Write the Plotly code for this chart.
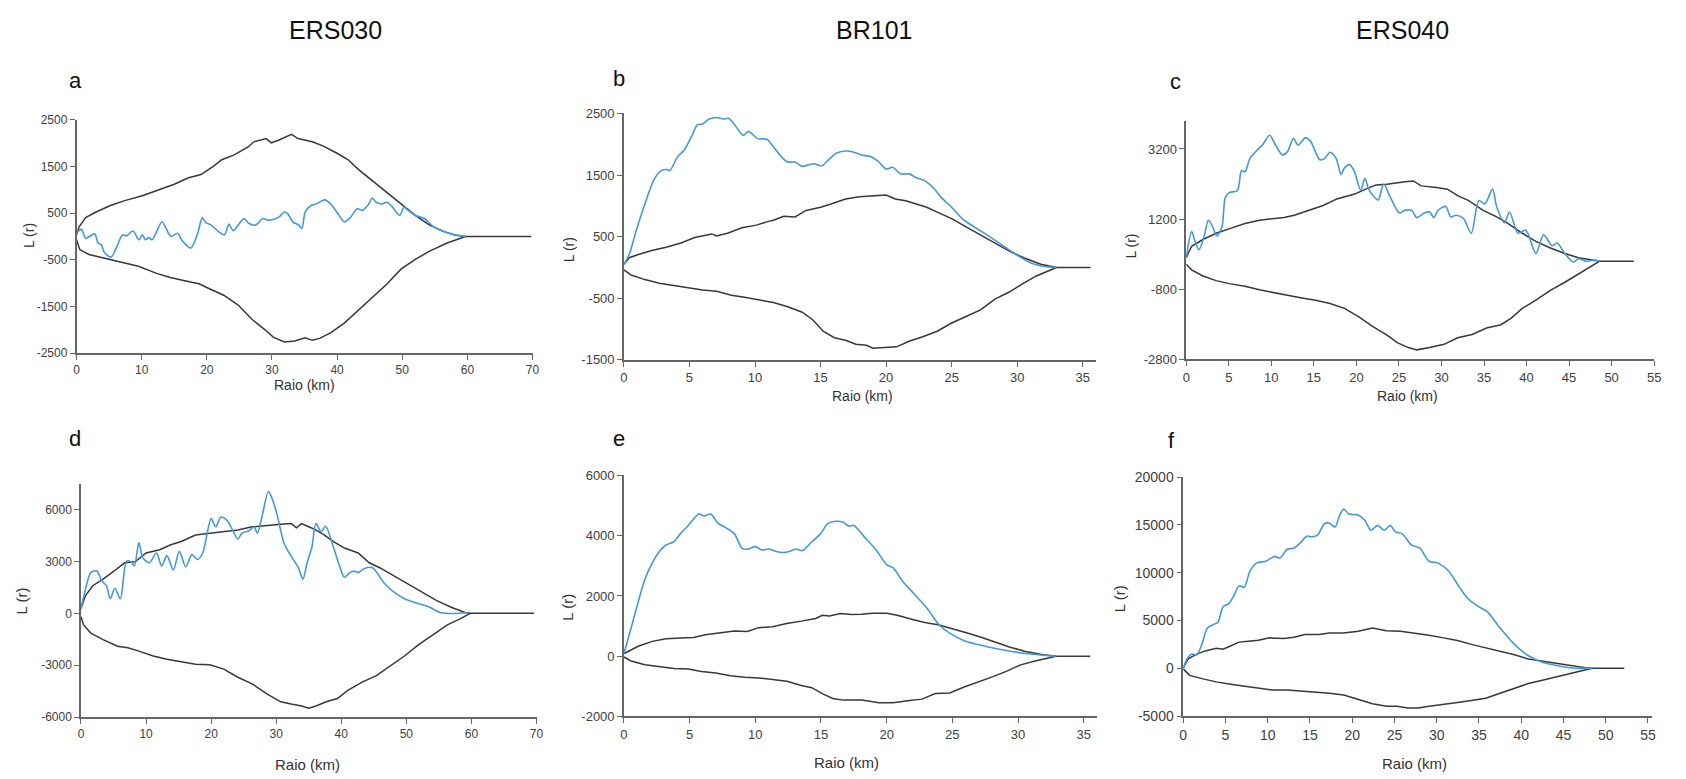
import plotly.graph_objects as go

W, H = 1686, 779

# ---------------- Panel a (ERS030) ----------------
a_obs_x = [0, 0.78, 1.4, 2.8, 3.3, 3.8, 4.3, 5.3, 6.1, 7.05, 7.65, 8.67, 9.58, 10.1, 10.6, 11.1, 11.6, 13.1, 13.5, 14.5, 15.5, 16.3, 17.55, 18.6, 19.3, 19.9, 20.7, 21.8, 22.7, 23.4, 24.05, 25.7, 26.5, 27.5, 28.6, 29.4, 30.2, 31.1, 31.9, 32.4, 33.2, 34.1, 34.6, 35.1, 36.0, 36.8, 38.1, 39.0, 40.3, 41.1, 41.9, 43.1, 43.9, 44.7, 45.4, 46.0, 46.9, 47.7, 48.5, 49.6, 50.3, 50.9, 52.0, 53.4, 54.8, 56.4, 58.0, 59.7]
a_obs_y = [84, 153, -36, 55, -140, -176, -350, -441, -246, 34, 13, 118, -71, 34, -71, -21, -71, 315, 244, 0, 69, -105, -246, 69, 399, 294, 244, 105, 34, 265, 126, 384, 279, 244, 385, 350, 364, 420, 525, 490, 315, 245, 175, 525, 665, 700, 785, 700, 455, 315, 385, 595, 560, 665, 820, 735, 700, 735, 630, 455, 630, 560, 455, 385, 210, 105, 35, 0]
a_up_x = [0, 0.4, 1.4, 3.0, 5.2, 7.4, 10.1, 12.8, 15.0, 17.2, 19.1, 21.0, 22.3, 24.2, 26.4, 27.2, 29.1, 29.9, 31.0, 33.0, 34.0, 36.2, 37.9, 40.0, 41.7, 43.3, 45.5, 47.7, 49.8, 52.0, 54.2, 56.4, 58.0, 59.7, 69.8]
a_up_y = [35, 210, 406, 525, 665, 770, 875, 1015, 1120, 1260, 1330, 1506, 1646, 1751, 1926, 2031, 2101, 2010, 2066, 2192, 2101, 2031, 1940, 1786, 1646, 1436, 1190, 945, 700, 455, 245, 105, 35, 0, 0]
a_lo_x = [0, 0.5, 1.9, 4.6, 6.8, 9.5, 12.3, 14.4, 16.6, 18.8, 20.4, 22.6, 24.8, 27.0, 28.9, 30.2, 31.9, 33.5, 35.1, 36.2, 37.3, 39.0, 41.1, 43.3, 45.5, 47.7, 49.8, 52.0, 54.2, 56.9, 59.7]
a_lo_y = [-70, -280, -385, -470, -540, -640, -790, -880, -950, -1015, -1120, -1260, -1471, -1786, -1996, -2157, -2262, -2241, -2171, -2227, -2185, -2066, -1856, -1576, -1296, -1015, -700, -490, -315, -140, 0]

# ---------------- Panel b (BR101) ----------------
b_obs_x = [0, 0.4, 0.95, 1.6, 2.3, 2.85, 3.26, 3.5, 4.1, 4.6, 5.2, 5.6, 6.0, 6.5, 7.07, 7.6, 8.0, 8.4, 9.1, 9.5, 10.2, 10.9, 11.4, 12.0, 12.5, 13.05, 13.6, 14.1, 14.5, 15.1, 15.6, 16.2, 16.9, 17.4, 18.1, 18.8, 19.4, 20.0, 20.5, 21.1, 21.8, 22.3, 23.0, 23.7, 24.2, 25.0, 25.8, 26.7, 27.7, 28.8, 29.9, 31.0, 32.1, 33.0]
b_obs_y = [52, 211, 609, 1032, 1430, 1573, 1589, 1573, 1800, 1907, 2145, 2315, 2330, 2410, 2436, 2410, 2420, 2330, 2145, 2209, 2092, 2081, 1960, 1800, 1711, 1711, 1642, 1668, 1684, 1652, 1748, 1854, 1891, 1880, 1827, 1800, 1721, 1599, 1626, 1520, 1520, 1456, 1403, 1271, 1138, 979, 794, 661, 530, 371, 212, 79, 16, 0]
b_up_x = [0, 0.4, 1.1, 2.2, 3.3, 4.35, 5.4, 6.25, 6.7, 7.07, 7.9, 9.0, 10.1, 10.9, 11.4, 12.2, 13.05, 13.9, 15.0, 15.8, 16.9, 17.95, 19.0, 20.0, 20.7, 21.5, 22.3, 23.1, 23.9, 25.0, 26.1, 27.2, 28.3, 29.4, 30.5, 31.8, 33.0, 35.6]
b_up_y = [52, 159, 211, 280, 333, 397, 487, 529, 545, 513, 556, 646, 688, 741, 767, 831, 820, 926, 979, 1032, 1112, 1149, 1165, 1175, 1112, 1085, 1032, 979, 900, 794, 661, 530, 397, 265, 159, 53, 0, 0]
b_lo_x = [0, 0.55, 1.6, 2.7, 3.8, 4.9, 6.0, 7.07, 8.2, 9.2, 10.3, 11.4, 12.5, 13.6, 14.4, 15.2, 16.05, 16.9, 17.7, 18.5, 19.0, 19.85, 20.8, 21.8, 22.8, 23.9, 25.0, 26.1, 27.2, 28.3, 29.4, 30.5, 31.5, 33.0]
b_lo_y = [-37, -122, -196, -255, -292, -334, -366, -387, -451, -483, -525, -567, -636, -726, -848, -1034, -1140, -1182, -1246, -1262, -1309, -1299, -1288, -1193, -1124, -1034, -901, -795, -689, -514, -398, -255, -133, 0]

# ---------------- Panel c (ERS040) ----------------
c_obs_x = [0, 0.63, 1.04, 1.5, 2.1, 2.6, 3.1, 3.6, 4.2, 4.6, 5.1, 6.0, 6.5, 6.9, 7.5, 8.35, 9.0, 9.8, 10.4, 11.3, 11.9, 12.6, 13.15, 14.0, 14.6, 15.7, 16.3, 16.9, 17.6, 18.2, 18.6, 19.2, 19.75, 20.5, 21.0, 21.5, 22.55, 23.2, 24.0, 25.05, 25.7, 26.5, 27.1, 27.97, 28.6, 29.1, 29.6, 30.5, 31.1, 31.7, 32.6, 33.5, 34.4, 35.1, 36.0, 36.5, 37.4, 38.0, 39.0, 39.9, 41.1, 42.0, 43.0, 43.6, 44.5, 45.5, 46.1, 47.0, 47.8, 48.6]
c_obs_y = [100, 843, 563, 330, 703, 1169, 983, 722, 983, 1821, 1961, 2007, 2585, 2548, 2939, 3172, 3330, 3591, 3358, 3032, 3125, 3498, 3312, 3517, 3424, 2893, 2939, 3107, 2939, 2473, 2660, 2753, 2566, 2026, 2361, 2026, 1747, 2194, 1821, 1374, 1448, 1448, 1243, 1374, 1402, 1243, 1448, 1560, 1262, 1309, 1215, 796, 1728, 1635, 2054, 1542, 1094, 1402, 796, 889, 219, 750, 442, 517, 219, -23, 70, -5, 33, 0]
c_up_x = [0, 0.63, 1.9, 3.5, 5.2, 6.9, 8.6, 10.2, 11.5, 12.7, 14.4, 16.1, 17.7, 19.8, 21.1, 22.3, 23.6, 24.8, 25.7, 26.7, 27.6, 29.4, 30.7, 31.9, 33.2, 34.9, 36.5, 37.8, 39.5, 41.1, 42.8, 44.5, 46.1, 48.6, 52.6]
c_up_y = [100, 424, 610, 796, 936, 1076, 1169, 1215, 1243, 1309, 1448, 1588, 1775, 1914, 2054, 2175, 2194, 2240, 2268, 2287, 2147, 2101, 2054, 1868, 1728, 1448, 1262, 1076, 796, 563, 377, 219, 98, 0, 0]
c_lo_x = [0, 0.63, 1.9, 3.5, 5.2, 6.9, 8.6, 10.2, 11.9, 13.6, 15.2, 16.9, 18.6, 20.25, 21.9, 23.6, 24.8, 26.1, 27.1, 28.6, 30.3, 31.9, 33.6, 35.3, 37.0, 38.2, 39.5, 41.1, 42.8, 44.5, 46.1, 47.8, 48.6]
c_lo_y = [-86, -247, -415, -555, -648, -713, -816, -900, -974, -1049, -1114, -1207, -1347, -1580, -1859, -2111, -2325, -2465, -2530, -2465, -2372, -2185, -2092, -1906, -1813, -1626, -1347, -1114, -834, -601, -368, -135, 0]

# ---------------- Panel d (ERS030) ----------------
d_obs_x = [0, 0.7, 1.5, 2.45, 3.2, 3.9, 4.5, 5.2, 6.05, 7.0, 7.7, 8.2, 8.9, 9.5, 10.5, 11.6, 12.4, 13.2, 14.2, 15.1, 16.1, 17.05, 17.9, 18.7, 20.0, 20.7, 21.5, 22.5, 23.3, 24.1, 24.7, 25.8, 26.6, 27.1, 27.8, 28.8, 29.3, 30.1, 31.2, 32.3, 33.4, 34.1, 34.75, 35.5, 36.1, 36.9, 37.6, 38.6, 39.65, 40.5, 41.3, 42.0, 42.6, 43.5, 44.8, 46.5, 48.1, 49.7, 51.9, 53.5, 55.2, 57.4, 59.5]
d_obs_y = [274, 1407, 2352, 2447, 1880, 1596, 840, 1445, 840, 3014, 2976, 2730, 4091, 3203, 2919, 3486, 2730, 3335, 2504, 3581, 2692, 3392, 3108, 3486, 5471, 4998, 5565, 5339, 4809, 4280, 4620, 4771, 4998, 4620, 5565, 7040, 6699, 5754, 4053, 3297, 2636, 1974, 2919, 3864, 5187, 4715, 5036, 4053, 2825, 2069, 2352, 2447, 2352, 2579, 2636, 1785, 1218, 840, 556, 367, 47, -10, 47]
d_up_x = [0, 0.7, 1.8, 3.4, 5.1, 6.7, 8.3, 10.0, 12.1, 13.8, 15.4, 17.6, 19.8, 21.95, 24.1, 26.3, 28.5, 30.7, 32.3, 33.1, 33.9, 35.6, 37.2, 38.8, 40.5, 42.6, 44.3, 45.9, 48.1, 50.3, 52.45, 54.6, 56.8, 59.0, 59.8, 69.6]
d_up_y = [274, 1029, 1596, 1974, 2447, 2919, 2976, 3486, 3675, 3959, 4148, 4526, 4620, 4715, 4809, 4998, 5093, 5149, 5187, 4941, 5187, 4904, 4582, 4148, 3770, 3486, 2919, 2636, 2163, 1691, 1218, 746, 367, 47, 0, 0]
d_lo_x = [0, 0.4, 1.5, 3.4, 5.6, 7.2, 8.9, 11.1, 13.2, 15.4, 17.6, 19.8, 21.95, 24.1, 26.3, 28.5, 30.7, 32.3, 33.9, 35.0, 36.1, 37.7, 39.4, 41.0, 43.2, 45.4, 47.5, 49.7, 51.9, 54.1, 56.3, 58.4, 59.8]
d_lo_y = [-200, -672, -1144, -1522, -1900, -1995, -2184, -2467, -2656, -2807, -2939, -2977, -3223, -3695, -4074, -4641, -5113, -5246, -5359, -5491, -5359, -5113, -4924, -4452, -3979, -3601, -3034, -2467, -1806, -1239, -672, -294, 0]

# ---------------- Panel e (BR101) ----------------
e_obs_x = [0, 0.54, 1.08, 1.6, 2.16, 2.7, 3.2, 3.8, 4.3, 4.9, 5.3, 5.7, 6.1, 6.6, 7.15, 7.8, 8.4, 9.0, 9.4, 10.0, 10.5, 11.06, 11.6, 12.1, 12.7, 13.1, 13.6, 14.3, 14.98, 15.5, 16.2, 16.7, 17.1, 17.5, 18.3, 19.2, 20.0, 20.5, 21.2, 22.1, 23.1, 24.0, 24.8, 25.9, 27.5, 29.1, 30.8, 32.4, 32.9]
e_obs_y = [81, 927, 1794, 2553, 3095, 3474, 3691, 3800, 4070, 4342, 4558, 4721, 4656, 4721, 4417, 4255, 4070, 3583, 3550, 3637, 3528, 3561, 3474, 3442, 3496, 3561, 3507, 3800, 4070, 4396, 4482, 4450, 4320, 4342, 3962, 3528, 3041, 2932, 2499, 2065, 1577, 1035, 764, 515, 331, 190, 81, 16, 0]
e_up_x = [0, 1.08, 2.16, 3.2, 4.3, 5.3, 6.2, 7.3, 8.4, 9.4, 10.25, 11.3, 12.4, 13.5, 14.6, 15.1, 15.65, 16.5, 17.3, 18.1, 18.9, 20.0, 20.8, 21.9, 22.9, 24.0, 25.1, 26.2, 27.25, 28.3, 29.4, 30.5, 31.8, 32.9, 35.5]
e_up_y = [81, 331, 493, 580, 602, 624, 710, 764, 840, 818, 948, 981, 1089, 1165, 1252, 1360, 1339, 1415, 1382, 1393, 1426, 1426, 1360, 1230, 1122, 1035, 905, 764, 624, 472, 298, 168, 60, 0, 0]
e_lo_x = [0, 0.54, 1.6, 2.7, 3.8, 4.9, 5.9, 7.0, 8.1, 9.2, 10.25, 11.3, 12.4, 13.5, 14.3, 15.1, 15.9, 16.7, 18.1, 19.4, 20.5, 21.6, 22.7, 23.7, 24.8, 25.9, 27.0, 28.1, 29.1, 30.2, 31.3, 32.9]
e_lo_y = [-27, -157, -287, -341, -406, -428, -504, -558, -645, -699, -721, -775, -829, -970, -1046, -1241, -1404, -1458, -1458, -1545, -1545, -1480, -1425, -1241, -1219, -1024, -862, -678, -504, -287, -157, 0]

# ---------------- Panel f (ERS040) ----------------
f_obs_x = [0, 0.55, 0.97, 1.6, 2.2, 2.85, 3.5, 4.1, 4.7, 5.4, 6.0, 6.6, 7.2, 7.9, 8.7, 9.8, 10.8, 11.45, 12.3, 13.1, 13.98, 14.6, 15.2, 15.9, 16.7, 17.3, 17.97, 18.5, 19.0, 19.6, 20.7, 21.5, 22.2, 23.0, 23.8, 24.5, 25.1, 25.9, 27.0, 28.0, 29.1, 30.1, 31.4, 32.7, 33.7, 35.0, 36.0, 37.5, 39.2, 40.85, 42.5, 44.6, 46.3, 48.4]
f_obs_y = [51, 1143, 1484, 1416, 2506, 4212, 4553, 4825, 6428, 6769, 7621, 8645, 8474, 10179, 11032, 11202, 11714, 11543, 12464, 12566, 13248, 13828, 13760, 13930, 15124, 15192, 14783, 15976, 16658, 16147, 16044, 15465, 14442, 14953, 14442, 14953, 14271, 14101, 12907, 12566, 11202, 11032, 10179, 8474, 7280, 6428, 5916, 4212, 2506, 1313, 631, 222, 17, 0]
f_up_x = [0, 0.55, 1.4, 2.6, 3.9, 4.7, 5.6, 6.6, 7.7, 8.9, 10.2, 11.9, 13.1, 14.4, 16.1, 17.3, 19.0, 20.7, 22.4, 24.05, 25.7, 27.4, 29.1, 30.8, 32.45, 34.1, 35.8, 37.5, 39.2, 40.85, 42.5, 44.2, 45.9, 47.6, 48.4, 52.2]
f_up_y = [51, 972, 1416, 1825, 2097, 1995, 2336, 2745, 2848, 2950, 3189, 3120, 3257, 3530, 3530, 3700, 3700, 3871, 4212, 3939, 3871, 3700, 3462, 3189, 2916, 2506, 2165, 1825, 1416, 972, 734, 461, 222, 51, 0, 0]
f_lo_x = [0, 0.75, 2.2, 3.9, 5.6, 7.3, 8.9, 10.6, 12.3, 14.0, 15.7, 17.3, 19.0, 20.7, 22.4, 24.05, 25.3, 26.6, 27.8, 29.1, 30.8, 32.45, 34.1, 35.8, 37.5, 39.2, 40.85, 42.5, 44.2, 45.9, 47.6, 48.4]
f_lo_y = [-50, -733, -1074, -1415, -1654, -1859, -2097, -2268, -2268, -2370, -2438, -2609, -2779, -3223, -3700, -3973, -3973, -4143, -4143, -3973, -3802, -3564, -3359, -3120, -2609, -2097, -1586, -1245, -904, -563, -222, 0]

col_titles = ["ERS030", "BR101", "ERS040"]
panel_letters = ["a", "b", "c", "d", "e", "f"]
x_title = "Raio (km)"
y_title = "L (r)"

# panel geometry (pixels): x0, x1, ytop, ybottom
panels = [
    dict(key="a", px=(73, 532), py=(114.3, 352.3), xr=(0, 70), xt=list(range(0, 71, 10)),
         yr=(-2500, 2500), yt=[-2500, -1500, -500, 500, 1500, 2500], fs=12,
         data=(a_obs_x, a_obs_y, a_up_x, a_up_y, a_lo_x, a_lo_y)),
    dict(key="b", px=(624, 1099), py=(107.7, 359.3), xr=(0, 36), xt=list(range(0, 36, 5)),
         yr=(-1500, 2500), yt=[-1500, -500, 500, 1500, 2500], fs=13,
         data=(b_obs_x, b_obs_y, b_up_x, b_up_y, b_lo_x, b_lo_y)),
    dict(key="c", px=(1190, 1661), py=(115.3, 358.7), xr=(0, 55), xt=list(range(0, 56, 5)),
         yr=(-2800, 4000), yt=[-2800, -800, 1200, 3200], fs=13,
         data=(c_obs_x, c_obs_y, c_up_x, c_up_y, c_lo_x, c_lo_y)),
    dict(key="d", px=(77.5, 536), py=(485.5, 724), xr=(0, 70), xt=list(range(0, 71, 10)),
         yr=(-6000, 7500), yt=[-6000, -3000, 0, 3000, 6000], fs=12,
         data=(d_obs_x, d_obs_y, d_up_x, d_up_y, d_lo_x, d_lo_y)),
    dict(key="e", px=(624, 1100), py=(477.3, 723.3), xr=(0, 36), xt=list(range(0, 36, 5)),
         yr=(-2000, 6000), yt=[-2000, 0, 2000, 4000, 6000], fs=13,
         data=(e_obs_x, e_obs_y, e_up_x, e_up_y, e_lo_x, e_lo_y)),
    dict(key="f", px=(1187, 1659), py=(479, 723), xr=(0, 55.5), xt=list(range(0, 56, 5)),
         yr=(-5000, 20000), yt=[-5000, 0, 5000, 10000, 15000, 20000], fs=14,
         data=(f_obs_x, f_obs_y, f_up_x, f_up_y, f_lo_x, f_lo_y)),
]

BLUE = "#4299dc"
BLACK = "#383838"
AXIS = "#666666"
TICKC = "#404040"
FONT = "Liberation Sans, Arial, sans-serif"

fig = go.Figure()
layout = dict(width=W, height=H, margin=dict(l=0, r=0, t=0, b=0),
              paper_bgcolor="white", plot_bgcolor="white", showlegend=False,
              font=dict(family=FONT, color="#222222"))

for i, p in enumerate(panels):
    n = "" if i == 0 else str(i + 1)
    xa, ya = "x" + n, "y" + n
    ox, oy, ux, uy, lx, ly = p["data"]
    fig.add_trace(go.Scatter(x=ux, y=uy, mode="lines", xaxis=xa, yaxis=ya,
                             line=dict(color=BLACK, width=1.5), hoverinfo="skip"))
    fig.add_trace(go.Scatter(x=lx, y=ly, mode="lines", xaxis=xa, yaxis=ya,
                             line=dict(color=BLACK, width=1.5), hoverinfo="skip"))
    fig.add_trace(go.Scatter(x=ox, y=oy, mode="lines", xaxis=xa, yaxis=ya,
                             line=dict(color=BLUE, width=1.6, shape="spline", smoothing=0.8),
                             hoverinfo="skip"))
    dom_x = [p["px"][0] / W, p["px"][1] / W]
    dom_y = [1 - p["py"][1] / H, 1 - p["py"][0] / H]
    common = dict(showgrid=False, zeroline=False, showline=True, linecolor=AXIS, linewidth=1.5,
                  ticks="outside", ticklen=5, tickwidth=1.2, tickcolor=AXIS,
                  tickfont=dict(family=FONT, size=p["fs"], color=TICKC))
    layout["xaxis" + n] = dict(domain=dom_x, range=list(p["xr"]), tickvals=p["xt"],
                               ticktext=[str(v) for v in p["xt"]], anchor=ya, **common)
    layout["yaxis" + n] = dict(domain=dom_y, range=list(p["yr"]), tickvals=p["yt"],
                               ticktext=[str(v) for v in p["yt"]], anchor=xa, **common)

fig.update_layout(**layout)

ann = []
def A(text, x, y, size, angle=0, color="#111111"):
    ann.append(dict(text=text, x=x / W, y=1 - y / H, xref="paper", yref="paper",
                    showarrow=False, xanchor="center", yanchor="middle", textangle=angle,
                    font=dict(family=FONT, size=size, color=color)))

# column titles
for t, cx in zip(col_titles, [334, 876, 1408]):
    A(t, cx, 22, 25)
# panel letters
for t, (cx, cy) in zip(panel_letters, [(72, 74), (619, 72), (1179, 75), (71, 440), (619, 440), (1175, 442)]):
    A(t, cx, cy, 22)
# x titles
for (cx, cy, s) in [(302, 385, 14), (864, 396, 14), (1413, 396, 14), (305, 772, 15), (848, 770, 15), (1420, 771, 15)]:
    A(x_title, cx, cy, s, color="#333333")
# y titles
for (cx, cy, s) in [(25, 232, 14), (569, 247, 14), (1134, 243, 14), (18, 605, 15), (567, 612, 15), (1123, 603, 15)]:
    A(y_title, cx, cy, s, angle=-90, color="#333333")

fig.update_layout(annotations=ann)

fig.write_html("out.html", include_plotlyjs=True, full_html=True,
               config={"displayModeBar": False, "responsive": False},
               post_script="document.body.style.margin='0';document.body.style.overflow='hidden';")
